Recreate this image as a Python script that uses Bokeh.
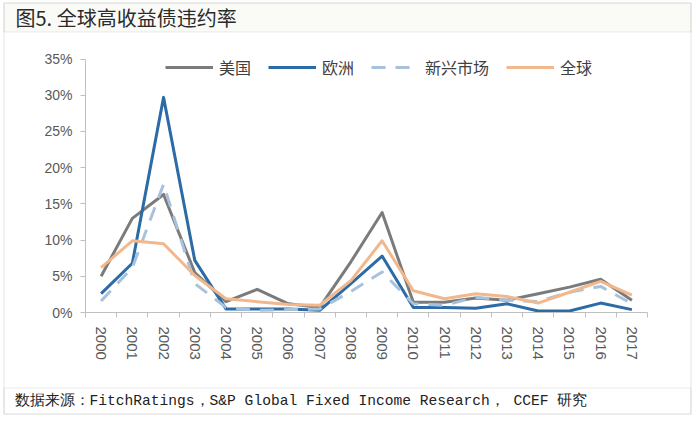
import math
from bokeh.plotting import figure
from bokeh.models import (Range1d, FixedTicker, Label, BoxAnnotation, Legend, LegendItem)
from bokeh.embed import file_html
from bokeh.resources import INLINE

# ---------------- data ----------------
years = list(range(2000, 2018))
year_labels = [str(y) for y in years]
series_names = ["美国", "欧洲", "新兴市场", "全球"]
us = [5.0, 13.0, 16.3, 5.5, 1.5, 3.2, 1.2, 0.7, 7.0, 13.8, 1.4, 1.4, 2.0, 1.7, 2.6, 3.5, 4.6, 1.7]
europe = [2.6, 6.8, 29.7, 7.2, 0.5, 0.5, 0.5, 0.3, 4.0, 7.8, 0.7, 0.7, 0.6, 1.2, 0.2, 0.2, 1.3, 0.4]
emerging = [1.6, 6.2, 17.7, 4.0, 0.7, 0.3, 0.4, 0.5, 2.9, 5.6, 1.2, 1.0, 2.1, 1.7, 1.5, 2.8, 3.6, 1.2]
global_ = [6.2, 9.9, 9.5, 5.1, 1.9, 1.5, 1.1, 1.0, 4.4, 9.9, 3.0, 1.9, 2.6, 2.2, 1.3, 2.8, 4.3, 2.4]
y_ticks = [0, 5, 10, 15, 20, 25, 30, 35]
y_tick_labels = ["0%", "5%", "10%", "15%", "20%", "25%", "30%", "35%"]
title_text = "图5. 全球高收益债违约率"
source_text = "数据来源：FitchRatings，S&P Global Fixed Income Research，  CCEF 研究"

# ---------------- layout geometry (pixels) ----------------
W, H = 693, 416
AX_L, AX_R = 85, 647      # plot-area left/right
AX_T, AX_B = 58.5, 312    # plot-area top/bottom
X_LO, X_HI = years[0] - 0.5, years[-1] + 0.5
Y_LO, Y_HI = y_ticks[0], y_ticks[-1]
ppx = (AX_R - AX_L) / (X_HI - X_LO)
ppy = (AX_B - AX_T) / (Y_HI - Y_LO)


def dx(px):
    return X_LO + (px - AX_L) / ppx


def dy(py):
    return Y_LO + (AX_B - py) / ppy


p = figure(width=W, height=H, output_backend="svg", toolbar_location=None, title=None,
           x_range=Range1d(dx(0), dx(W)), y_range=Range1d(dy(H), dy(0)),
           min_border=0, min_border_left=0, min_border_right=0,
           min_border_top=0, min_border_bottom=0)
p.outline_line_color = None
p.background_fill_color = "#ffffff"
p.border_fill_color = "#ffffff"
p.xgrid.visible = False
p.ygrid.visible = False

axis_col = "#c0c0c0"
lab_col = "#595959"

xa = p.xaxis[0]
xa.fixed_location = Y_LO
xa.bounds = (X_LO, X_HI)
xa.ticker = FixedTicker(ticks=years, minor_ticks=[y - 0.5 for y in years] + [X_HI])
xa.major_label_overrides = {y: s for y, s in zip(years, year_labels)}
xa.major_label_orientation = -math.pi / 2
xa.axis_line_color = axis_col
xa.major_tick_line_color = None
xa.major_tick_out = 0
xa.major_tick_in = 0
xa.minor_tick_line_color = axis_col
xa.minor_tick_out = 5
xa.minor_tick_in = 0
xa.major_label_standoff = 9
xa.major_label_text_font = "Liberation Sans"
xa.major_label_text_font_size = "15px"
xa.major_label_text_color = lab_col

ya = p.yaxis[0]
ya.fixed_location = X_LO
ya.bounds = (Y_LO, Y_HI)
ya.ticker = FixedTicker(ticks=y_ticks, minor_ticks=[])
ya.major_label_overrides = {t: s for t, s in zip(y_ticks, y_tick_labels)}
ya.axis_line_color = axis_col
ya.major_tick_line_color = axis_col
ya.major_tick_out = 5
ya.major_tick_in = 0
ya.minor_tick_line_color = None
ya.major_label_standoff = 8
ya.major_label_text_font = "Liberation Sans"
ya.major_label_text_font_size = "14px"
ya.major_label_text_color = lab_col

# ---------------- series ----------------
colors = ["#7b7b7b", "#2c6ba5", "#a8c2dc", "#f1b88e"]
dashes = ["solid", "solid", "14 10", "solid"]
renderers = []
for vals, c, d in zip([us, europe, emerging, global_], colors, dashes):
    r = p.line(years, vals, line_color=c, line_width=3, line_dash=d, line_join="round")
    renderers.append(r)

legend = Legend(items=[LegendItem(label=n, renderers=[r]) for n, r in zip(series_names, renderers)],
                orientation="horizontal", location=(165, H - 79),
                glyph_width=48, glyph_height=20, label_height=20, label_standoff=6,
                spacing=17, padding=0, margin=0, border_line_color=None,
                background_fill_alpha=0,
                label_text_font="Noto Sans CJK SC", label_text_font_size="16px",
                label_text_color="#404040")
p.add_layout(legend)

# ---------------- frame, title bar, source ----------------
frame_col = "#b8b8b8"
p.add_layout(BoxAnnotation(left=dx(3.5), right=dx(690.5), top=dy(2.5), bottom=dy(31.5),
                           fill_color="#fafaf7", fill_alpha=1.0,
                           line_color=frame_col, line_width=1.2))
p.add_layout(BoxAnnotation(left=dx(3.5), right=dx(690.5), top=dy(2.5), bottom=dy(413.5),
                           fill_alpha=0, line_color=frame_col, line_width=1.2))
p.add_layout(BoxAnnotation(left=dx(3.5), right=dx(690.5), top=dy(387.5), bottom=dy(413.5),
                           fill_alpha=0, line_color=frame_col, line_width=1.2))
p.add_layout(Label(x=dx(15), y=dy(17), text=title_text,
                   text_baseline="middle", text_align="left",
                   text_font="Noto Sans CJK SC", text_font_size="20px",
                   text_color="#2b2b2b"))
p.add_layout(Label(x=dx(14), y=dy(400.5), text=source_text,
                   text_baseline="middle", text_align="left",
                   text_font="Liberation Mono", text_font_size="14.6px",
                   text_color="#222222"))

open("out.html", "w").write(file_html(p, INLINE))
